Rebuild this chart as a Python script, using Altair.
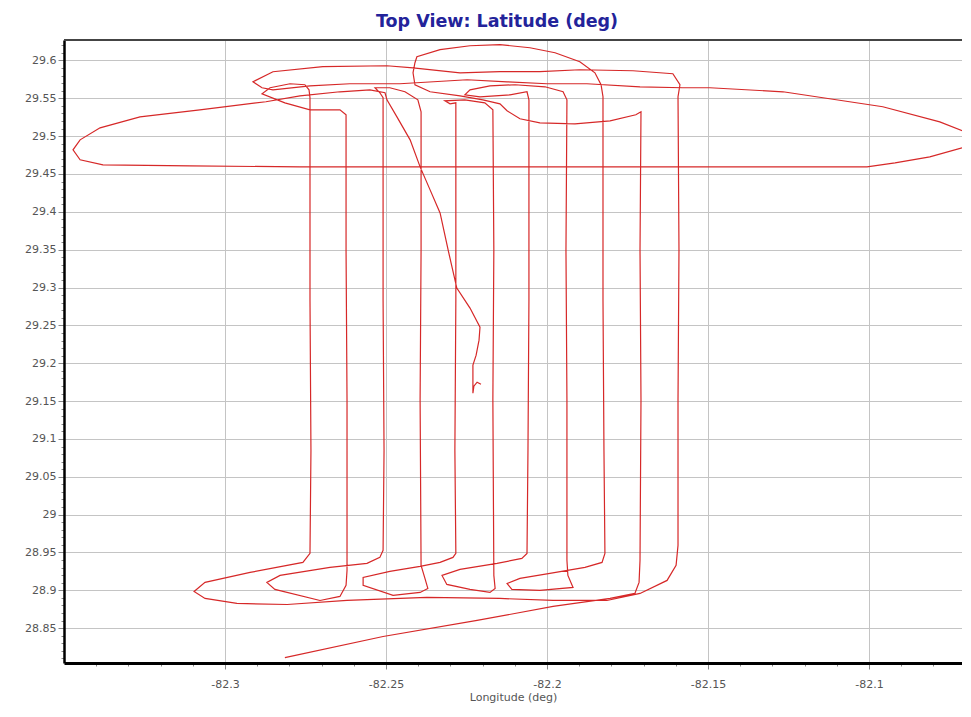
import altair as alt
import pandas as pd

# ---- flight track (longitude / latitude in degrees) ----
# leg 1: start line rising to the right, then north along -82.171
lon1 = [-82.2814, -82.2509, -82.2217, -82.1981, -82.1804, -82.1727, -82.1714, -82.1711, -82.1708, -82.1711, -82.1708]
lat1 = [28.8112, 28.8390, 28.8602, 28.8787, 28.8893, 28.8959, 28.9105, 28.9396, 29.1511, 29.3496, 29.5321]
# leg 2: northern turn heading west
lon2 = [-82.1724, -82.1804, -82.1913, -82.2022, -82.2084, -82.2124, -82.2146, -82.2199, -82.2270, -82.2363, -82.2410, -82.2416]
lat2 = [29.5282, 29.5202, 29.5163, 29.5176, 29.5229, 29.5335, 29.5427, 29.5480, 29.5533, 29.5586, 29.5679, 29.5837]
# leg 3: top arc
lon3 = [-82.2410, -82.2404, -82.2332, -82.2239, -82.2146, -82.2053, -82.1975, -82.1898, -82.1851, -82.1832, -82.1826]
lat3 = [29.5970, 29.6049, 29.6142, 29.6194, 29.6208, 29.6168, 29.6102, 29.5983, 29.5837, 29.5679, 29.5520]
# leg 4: south on -82.1826, turn, north on -82.1938
lon4 = [-82.1826, -82.1823, -82.1820, -82.1829, -82.1882, -82.1991, -82.2084, -82.2124, -82.2109, -82.2022, -82.1919, -82.1935, -82.1938, -82.1938, -82.1941, -82.1938]
lat4 = [29.2835, 29.0850, 28.9488, 28.9369, 28.9303, 28.9224, 28.9158, 28.9091, 28.9012, 28.8999, 28.9038, 28.9197, 28.9396, 29.1511, 29.3496, 29.5480]
# leg 5: turn, south on -82.2056, turn, north on -82.2168
lon5 = [-82.1950, -82.2006, -82.2099, -82.2177, -82.2239, -82.2255, -82.2208, -82.2115, -82.2062, -82.2056, -82.2056, -82.2059, -82.2062, -82.2078, -82.2155, -82.2270, -82.2326, -82.2311, -82.2239, -82.2177, -82.2161, -82.2165, -82.2168, -82.2165, -82.2168]
lat5 = [29.5586, 29.5652, 29.5679, 29.5665, 29.5612, 29.5546, 29.5520, 29.5546, 29.5586, 29.5480, 29.2835, 29.0850, 28.9488, 28.9421, 28.9356, 28.9276, 28.9197, 28.9078, 28.9012, 28.8972, 28.9025, 28.9197, 29.1511, 29.3496, 29.5348]
# leg 6: turn, south on -82.2283, turn, north on -82.2391
lon6 = [-82.2193, -82.2255, -82.2317, -82.2301, -82.2283, -82.2283, -82.2286, -82.2283, -82.2292, -82.2332, -82.2394, -82.2488, -82.2571, -82.2571, -82.2478, -82.2394, -82.2370, -82.2379, -82.2391, -82.2394, -82.2391, -82.2391]
lat6 = [29.5440, 29.5480, 29.5467, 29.5427, 29.5440, 29.2835, 29.0850, 28.9488, 28.9435, 28.9369, 28.9316, 28.9250, 28.9171, 28.9065, 28.8933, 28.8972, 28.9025, 28.9158, 28.9329, 29.1511, 29.3496, 29.5321]
# leg 7: turn, south on -82.2509, turn, north on -82.2621
lon7 = [-82.2401, -82.2441, -82.2488, -82.2534, -82.2519, -82.2509, -82.2509, -82.2506, -82.2509, -82.2519, -82.2559, -82.2674, -82.2829, -82.2870, -82.2845, -82.2705, -82.2643, -82.2624, -82.2621, -82.2621, -82.2624, -82.2624]
lat7 = [29.5480, 29.5586, 29.5639, 29.5639, 29.5573, 29.5507, 29.2835, 29.0850, 28.9528, 28.9435, 28.9356, 28.9303, 28.9197, 28.9105, 28.9012, 28.8866, 28.8919, 28.9065, 28.9263, 29.1511, 29.3496, 29.5282]
# leg 8: turn, south on -82.2736, long southern pass east, north on -82.1593
lon8 = [-82.2643, -82.2736, -82.2814, -82.2885, -82.2860, -82.2798, -82.2752, -82.2739, -82.2736, -82.2736, -82.2733, -82.2736, -82.2758, -82.2922, -82.3062, -82.3096, -82.3062, -82.2963, -82.2807, -82.2621, -82.2373, -82.2146, -82.1981, -82.1814, -82.1711, -82.1627, -82.1599, -82.1593, -82.1593, -82.1590, -82.1593]
lat8 = [29.5348, 29.5348, 29.5440, 29.5560, 29.5639, 29.5692, 29.5679, 29.5612, 29.5507, 29.2835, 29.0850, 28.9488, 28.9369, 28.9237, 28.9105, 28.8985, 28.8893, 28.8827, 28.8813, 28.8866, 28.8906, 28.8893, 28.8866, 28.8866, 28.8959, 28.9131, 28.9329, 28.9594, 29.1511, 29.3496, 29.5520]
# leg 9: northern loops, eastern loop, long westbound line at 29.46, western loop
lon9 = [-82.1587, -82.1609, -82.1733, -82.1898, -82.2022, -82.2146, -82.2270, -82.2416, -82.2497, -82.2696, -82.2851, -82.2913, -82.2885, -82.2851, -82.2736, -82.2612, -82.2457, -82.2248, -82.2124, -82.2000, -82.1876, -82.1711, -82.1578, -82.1494, -82.1267, -82.0957, -82.0780, -82.0702, -82.0686, -82.0711, -82.0811, -82.0919, -82.1006, -82.1525, -82.2146, -82.2767, -82.3109, -82.3379, -82.3450, -82.3472, -82.3450, -82.3388, -82.3264, -82.3078, -82.2873]
lat9 = [29.5679, 29.5824, 29.5864, 29.5877, 29.5851, 29.5851, 29.5837, 29.5903, 29.5930, 29.5917, 29.5851, 29.5718, 29.5639, 29.5612, 29.5665, 29.5692, 29.5692, 29.5745, 29.5718, 29.5692, 29.5692, 29.5652, 29.5639, 29.5639, 29.5586, 29.5388, 29.5189, 29.5057, 29.4977, 29.4845, 29.4726, 29.4647, 29.4594, 29.4594, 29.4594, 29.4594, 29.4607, 29.4620, 29.4687, 29.4819, 29.4951, 29.5110, 29.5255, 29.5348, 29.5454]
# leg 10: descent line to the end hook
lon10 = [-82.2767, -82.2643, -82.2550, -82.2503, -82.2497, -82.2466, -82.2425, -82.2394, -82.2363, -82.2332, -82.2307, -82.2280, -82.2239, -82.2208, -82.2211, -82.2220, -82.2230, -82.2230, -82.2230, -82.2227, -82.2217, -82.2205]
lat10 = [29.5533, 29.5586, 29.5612, 29.5573, 29.5480, 29.5255, 29.4951, 29.4594, 29.4290, 29.3985, 29.3496, 29.2993, 29.2729, 29.2477, 29.2305, 29.2107, 29.1975, 29.1776, 29.1604, 29.1697, 29.1750, 29.1723]

# axis ticks
x_major = [-82.3, -82.25, -82.2, -82.15, -82.1]
y_major = [28.85, 28.9, 28.95, 29.0, 29.05, 29.1, 29.15, 29.2, 29.25, 29.3, 29.35, 29.4, 29.45, 29.5, 29.55, 29.6]
x_ticks = [round(-82.34 + 0.01 * i, 2) for i in range(27)]
y_ticks = [round(28.81 + 0.01 * i, 2) for i in range(82)]

legs = [(lon1, lat1), (lon2, lat2), (lon3, lat3), (lon4, lat4), (lon5, lat5),
        (lon6, lat6), (lon7, lat7), (lon8, lat8), (lon9, lat9), (lon10, lat10)]
lons, lats = [], []
for lo, la in legs:
    lons += lo
    lats += la
df = pd.DataFrame({"lon": lons, "lat": lats, "idx": range(len(lons))})

W, H = 898, 623
major = "abs(datum.value*20 - round(datum.value*20)) < 0.001"
lab = major + " ? '' + datum.value : ''"

common = dict(
    labelExpr=lab,
    labelFont="DejaVu Sans", labelFontSize=11, labelColor="#555555",
    grid=True, gridColor="#c4c4c4", gridWidth=1,
    gridOpacity={"condition": {"test": major, "value": 1}, "value": 0},
    tickSize={"condition": {"test": major, "value": 6}, "value": 3},
    tickColor="#888888",
    domainColor="#000000",
    labelFlush=False,
)

line = alt.Chart(df).mark_line(color="#d62828", strokeWidth=1.2, clip=True).encode(
    x=alt.X("lon:Q",
            scale=alt.Scale(domain=[-82.35, -82.0711], nice=False, zero=False),
            axis=alt.Axis(values=x_ticks, title="Longitude (deg)", titleFont="DejaVu Sans",
                          titleFontSize=11, titleFontWeight="normal", titleColor="#555555",
                          titlePadding=2, labelPadding=9, domainWidth=3, **common)),
    y=alt.Y("lat:Q",
            scale=alt.Scale(domain=[28.804, 29.627], nice=False, zero=False),
            axis=alt.Axis(values=y_ticks, title=None, labelPadding=2, domainWidth=2.5, **common)),
    order="idx:Q",
)

top_border = alt.Chart(pd.DataFrame({"k": [0]})).mark_rule(color="#444444", strokeWidth=2).encode(
    x=alt.value(0), x2=alt.value(W), y=alt.value(0)
)

chart = alt.layer(line, top_border).properties(
    width=W, height=H,
    title=alt.TitleParams("Top View: Latitude (deg)", font="DejaVu Sans", fontSize=17.5,
                          fontWeight="bold", color="#23239a", anchor="middle", dx=-16, offset=9),
    autosize="none",
    padding={"left": 56, "top": 32, "right": 0, "bottom": 46},
).configure_view(stroke=None)

chart.save("out.html", embed_options={"renderer": "svg", "actions": False})
